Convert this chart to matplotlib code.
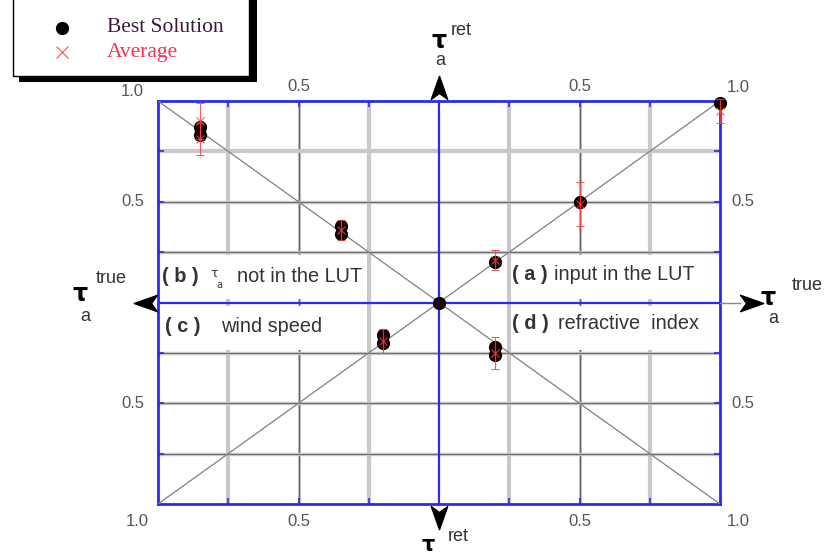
import matplotlib
matplotlib.use('Agg')
import matplotlib.pyplot as plt
from matplotlib.path import Path
from matplotlib.markers import MarkerStyle
from matplotlib.patches import Rectangle
from matplotlib.lines import Line2D

# ---------------- data ----------------
grid_light = [-0.75, -0.25, 0.25, 0.75]
grid_dark = [-0.5, 0.5]
tick_vals = [-0.75, -0.5, -0.25, 0.25, 0.5, 0.75]

# (a) input in the LUT  (upper right)
a_true = [0.0, 0.2, 0.5, 1.0]
a_best = [0.0, 0.2, 0.5, 0.99]
a_avg_true = [0.2, 0.5, 1.0]
a_avg = [0.21, 0.49, 0.95]
a_err = [0.05, 0.11, 0.06]
# (b) tau_a not in the LUT  (upper left)
b_true = [0.85, 0.85, 0.35, 0.35]
b_best = [0.87, 0.83, 0.38, 0.34]
b_avg_true = [0.85, 0.85, 0.35]
b_avg = [0.90, 0.81, 0.36]
b_err = [0.09, 0.08, 0.05]
# (c) wind speed  (lower left)
c_true = [0.2, 0.2]
c_best = [0.16, 0.20]
c_avg_true = [0.2]
c_avg = [0.19]
c_err = [0.06]
# (d) refractive index  (lower right)
d_true = [0.2, 0.2]
d_best = [0.22, 0.26]
d_avg_true = [0.2]
d_avg = [0.25]
d_err = [0.08]

# ---------------- figure ----------------
W, H = 829, 557
fig = plt.figure(figsize=(W / 100, H / 100), dpi=100)
L, R, T, B = 158, 720, 101, 504
ax = fig.add_axes([L / W, 1 - B / H, (R - L) / W, (B - T) / H])
ax.set_xlim(-1, 1)
ax.set_ylim(-1, 1)

blue = '#2a2af0'
for s in ax.spines.values():
    s.set_color(blue)
    s.set_linewidth(2)
ax.set_xticks(tick_vals)
ax.set_yticks(tick_vals)
ax.tick_params(direction='in', length=4, width=1.2, color=blue,
               top=True, right=True, labelbottom=False, labelleft=False)

# grid
for v in grid_light:
    ax.axvline(v, color='#c8c8c8', lw=3.0, zorder=1)
for v in grid_dark:
    ax.axvline(v, color='#c8c8c8', lw=2.2, zorder=1)
    ax.axvline(v, color='#666666', lw=0.9, zorder=1)
for v in [0.75]:
    ax.axhline(v, color='#c8c8c8', lw=3.0, zorder=1)
for v in [0.5, 0.25, -0.25, -0.5, -0.75]:
    ax.axhline(v, color='#c8c8c8', lw=2.4, zorder=1)
    ax.axhline(v, color='#707070', lw=0.8, zorder=1)

# white label boxes
for (x0, y0) in [(-1, 0.015), (-1, -0.235), (0.262, 0.015), (0.262, -0.235)]:
    w = 0.742 if x0 < 0 else 0.738
    ax.add_patch(Rectangle((x0, y0), w, 0.22, facecolor='white',
                           edgecolor='none', zorder=2))

# centre cross
ax.axhline(0, color=blue, lw=1.6, zorder=3)
ax.axvline(0, color=blue, lw=1.6, zorder=3)

# diagonals
ax.plot([-1, 1], [-1, 1], color='#808080', lw=0.9, zorder=3)
ax.plot([-1, 1], [1, -1], color='#808080', lw=0.9, zorder=3)

# points
quads = [
    (a_true, a_best, a_avg_true, a_avg, a_err, 1, 1),
    (b_true, b_best, b_avg_true, b_avg, b_err, -1, 1),
    (c_true, c_best, c_avg_true, c_avg, c_err, -1, -1),
    (d_true, d_best, d_avg_true, d_avg, d_err, 1, -1),
]
red = '#ff3b3b'
for t, bst, at, av, er, sx, sy in quads:
    ax.plot([sx * v for v in t], [sy * v for v in bst], 'o', color='#1e0000',
            mec='black', ms=8.5, zorder=5, clip_on=False)
    ax.errorbar([sx * v for v in at], [sy * v for v in av], yerr=er, fmt='x',
                color=red, ms=6, mew=0.8, elinewidth=0.8, capsize=3,
                capthick=0.8, alpha=0.85, zorder=6, clip_on=False)

# arrows
arrow = Path([(0, 1), (0.62, -0.75), (0, -0.3), (-0.62, -0.75), (0, 1)],
             [Path.MOVETO, Path.LINETO, Path.LINETO, Path.LINETO, Path.CLOSEPOLY])
ax.plot([1.0, 1.07], [0, 0], color='#888888', lw=1, clip_on=False, zorder=3)
for (x, y, rot) in [(0, 1.06, 0), (0, -1.06, 180), (-1.04, 0, 90), (1.105, 0, -90)]:
    m = MarkerStyle(arrow).rotated(deg=rot)
    ax.plot([x], [y], marker=m, ms=19, color='black', clip_on=False, zorder=7)

# tick labels
tk = dict(fontsize=12, color='#555555', family='Liberation Sans',
          ha='center', va='center', clip_on=False)
for x in [-0.5, 0.5]:
    ax.text(x, 1.07, '0.5', **tk)
    ax.text(x, -1.085, '0.5', **tk)
ax.text(1.064, 1.065, '1.0', **tk)
ax.text(1.064, -1.085, '1.0', **tk)
ax.text(-1.075, -1.085, '1.0', **tk)
ax.text(-1.09, 1.045, '1.0', **tk)
for y in [0.5, -0.5]:
    ax.text(-1.09, y, '0.5', **tk)
    ax.text(1.08, y, '0.5', **tk)

# axis labels
tau = dict(fontsize=17, fontweight='bold', color='black', family='DejaVu Sans',
           ha='center', va='center', clip_on=False)
sub = dict(fontsize=13, color='#333333', family='Liberation Sans',
           ha='center', va='center', clip_on=False)
ax.text(0, 1.30, 'τ', **tau)
ax.text(0.005, 1.20, 'a', **sub)
ax.text(0.08, 1.35, 'ret', **sub)
ax.text(-1.278, 0.04, 'τ', **tau)
ax.text(-1.26, -0.07, 'a', **sub)
ax.text(-1.165, 0.12, 'true', **sub)
ax.text(1.17, 0.02, 'τ', **tau)
ax.text(1.19, -0.08, 'a', **sub)
ax.text(1.31, 0.085, 'true', **sub)
ax.text(-0.04, -1.205, 'τ', **dict(tau, fontsize=15))
ax.text(0.07, -1.16, 'ret', **sub)

# quadrant labels
lb = dict(fontsize=14.3, color='#333333', family='Liberation Sans',
          ha='left', va='center', zorder=8)
lbb = dict(lb, fontweight='bold')
ax.text(-0.985, 0.13, '( b )', **lbb)
ax.text(-0.80, 0.145, 'τ', fontsize=9, color='#333333', ha='center', va='center', zorder=8)
ax.text(-0.783, 0.085, 'a', fontsize=7, color='#333333', ha='center', va='center', zorder=8)
ax.text(-0.72, 0.13, 'not in the LUT', **lb)
ax.text(-0.975, -0.12, '( c )', **lbb)
ax.text(-0.775, -0.12, 'wind speed', **lb)
ax.text(0.26, 0.14, '( a )', **lbb)
ax.text(0.41, 0.14, 'input in the LUT', **lb)
ax.text(0.26, -0.105, '( d )', **lbb)
ax.text(0.425, -0.105, 'refractive  index', **lb)

# legend (drawn by hand)
def fx(px):
    return px / W

def fy(py):
    return 1 - py / H

fig.add_artist(Rectangle((fx(19), fy(82)), fx(257) - fx(19), fy(0) - fy(82),
                         transform=fig.transFigure, facecolor='black',
                         edgecolor='none', zorder=10))
fig.add_artist(Rectangle((fx(13), fy(76)), fx(249) - fx(13), fy(-5) - fy(76),
                         transform=fig.transFigure, facecolor='white',
                         edgecolor='black', lw=1, zorder=11))
fig.add_artist(Line2D([fx(62)], [fy(28)], marker='o', ms=8.5, color='black',
                      transform=fig.transFigure, zorder=12))
fig.add_artist(Line2D([fx(62)], [fy(52)], marker='x', ms=8, mew=0.9,
                      color='#ff6060', transform=fig.transFigure, zorder=12))
fig.text(fx(107), fy(28), 'Best Solution', fontsize=15.5, family='Liberation Serif',
         color='#3a1a3a', ha='left', va='center', zorder=12)
fig.text(fx(107), fy(52), 'Average', fontsize=15.5, family='Liberation Serif',
         color='#ff3050', ha='left', va='center', zorder=12)

fig.savefig('out.png', dpi=100)
